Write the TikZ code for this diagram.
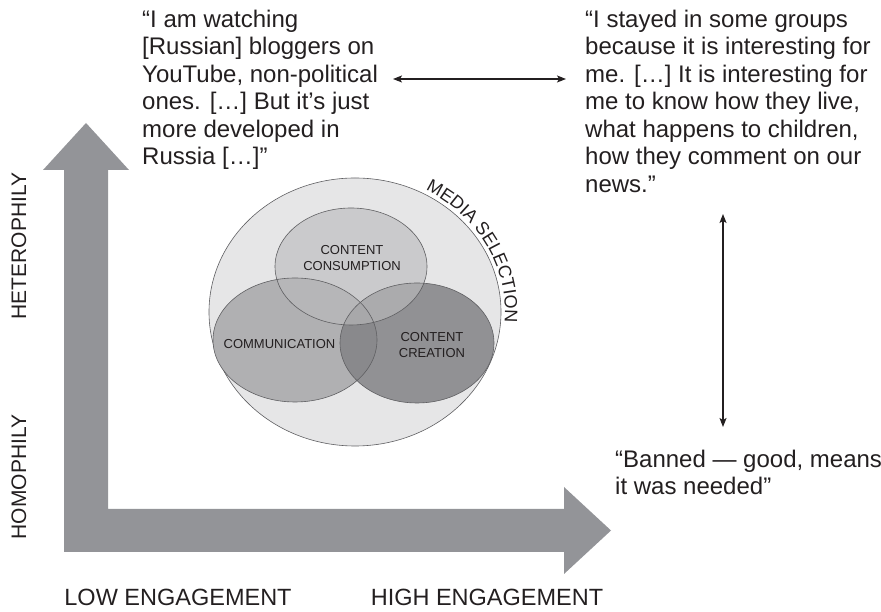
\documentclass[tikz,border=0pt]{standalone}
\usepackage{fontspec}
\setmainfont{Liberation Sans}
\usetikzlibrary{arrows.meta,decorations.text}
\definecolor{axisgray}{RGB}{147,148,152}
\definecolor{outerfill}{RGB}{230,230,231}
\definecolor{commfill}{RGB}{176,176,178}
\definecolor{creatfill}{RGB}{131,131,134}
\definecolor{consfill}{RGB}{187,187,189}
\definecolor{linegray}{RGB}{95,95,98}
\definecolor{ink}{RGB}{35,31,32}
\begin{document}
\begin{tikzpicture}[x=1pt,y=1pt,
  quote/.style={anchor=north west, inner sep=0pt, align=left, font=\fontsize{24}{27.5}\selectfont, text=ink},
  sidelabel/.style={inner sep=0pt, font=\fontsize{21}{21}\selectfont, text=ink},
  bottomlabel/.style={inner sep=0pt, anchor=base, font=\fontsize{23.5}{23.5}\selectfont, text=ink},
  vennlabel/.style={inner sep=0pt, align=center, font=\fontsize{13}{16}\selectfont, text=ink},
  venn/.style={draw=linegray, line width=0.6pt},
  twoway/.style={{Stealth[length=9pt,width=7pt,inset=2pt]}-{Stealth[length=9pt,width=7pt,inset=2pt]}, line width=1.1pt, draw=ink}]
\useasboundingbox (0,0) rectangle (881,612);

% L-shaped axis arrow
\fill[axisgray] (64,60) -- (64,442) -- (43,442) -- (86,489) -- (129,442) -- (108,442)
  -- (108,103) -- (564,103) -- (564,125) -- (611,81.5) -- (564,38) -- (564,60) -- cycle;

% axis labels
\node[sidelabel, rotate=90] (hetero) at (19,366) {HETEROPHILY};
\node[sidelabel, rotate=90] (homo) at (19,135) {HOMOPHILY};
\node[bottomlabel] (low) at (178,6) {LOW ENGAGEMENT};
\node[bottomlabel] (high) at (487,6) {HIGH ENGAGEMENT};

% quotes
\node[quote] (q1) at (142,602.5) {“I am watching\\{[}Russian{]} bloggers on\\YouTube, non-political\\ones. {[}…{]} But it’s just\\more developed in\\Russia {[}…{]}”};
\node[quote] (q2) at (585,602.5) {“I stayed in some groups\\because it is interesting for\\me. {[}…{]} It is interesting for\\me to know how they live,\\what happens to children,\\how they comment on our\\news.”};
\node[quote] (q3) at (615,162.5) {“Banned — good, means\\it was needed”};

% double arrows
\coordinate (a1) at (393,533);
\coordinate (a2) at (566,533);
\draw[twoway] (a1) -- (a2);
\coordinate (v1) at (723,398);
\coordinate (v2) at (723,185);
\draw[twoway] (v1) -- (v2);

% Venn diagram
\path[venn, fill=outerfill] (355,300) ellipse [x radius=146, y radius=134];
\fill[commfill] (295,272) ellipse [x radius=82, y radius=62];
\fill[creatfill, fill opacity=0.85] (417,269) ellipse [x radius=77, y radius=60];
\fill[consfill, fill opacity=0.63] (351,345.5) ellipse [x radius=76, y radius=58.5];
\draw[venn] (295,272) ellipse [x radius=82, y radius=62];
\draw[venn] (417,269) ellipse [x radius=77, y radius=60];
\draw[venn] (351,345.5) ellipse [x radius=76, y radius=58.5];

\path[decorate, decoration={text along path, text align=center,
  text={|\fontsize{18}{18}\selectfont\color{ink}|MEDIA SELECTION}}]
  (406.3,429.7) arc[start angle=70, end angle=-13, x radius=150, y radius=138];

\node[vennlabel] (cons) at (352,353.5) {CONTENT\\CONSUMPTION};
\node[vennlabel] (comm) at (279.5,268) {COMMUNICATION};
\node[vennlabel] (creat) at (432,267.3) {CONTENT\\CREATION};
\end{tikzpicture}
\end{document}
